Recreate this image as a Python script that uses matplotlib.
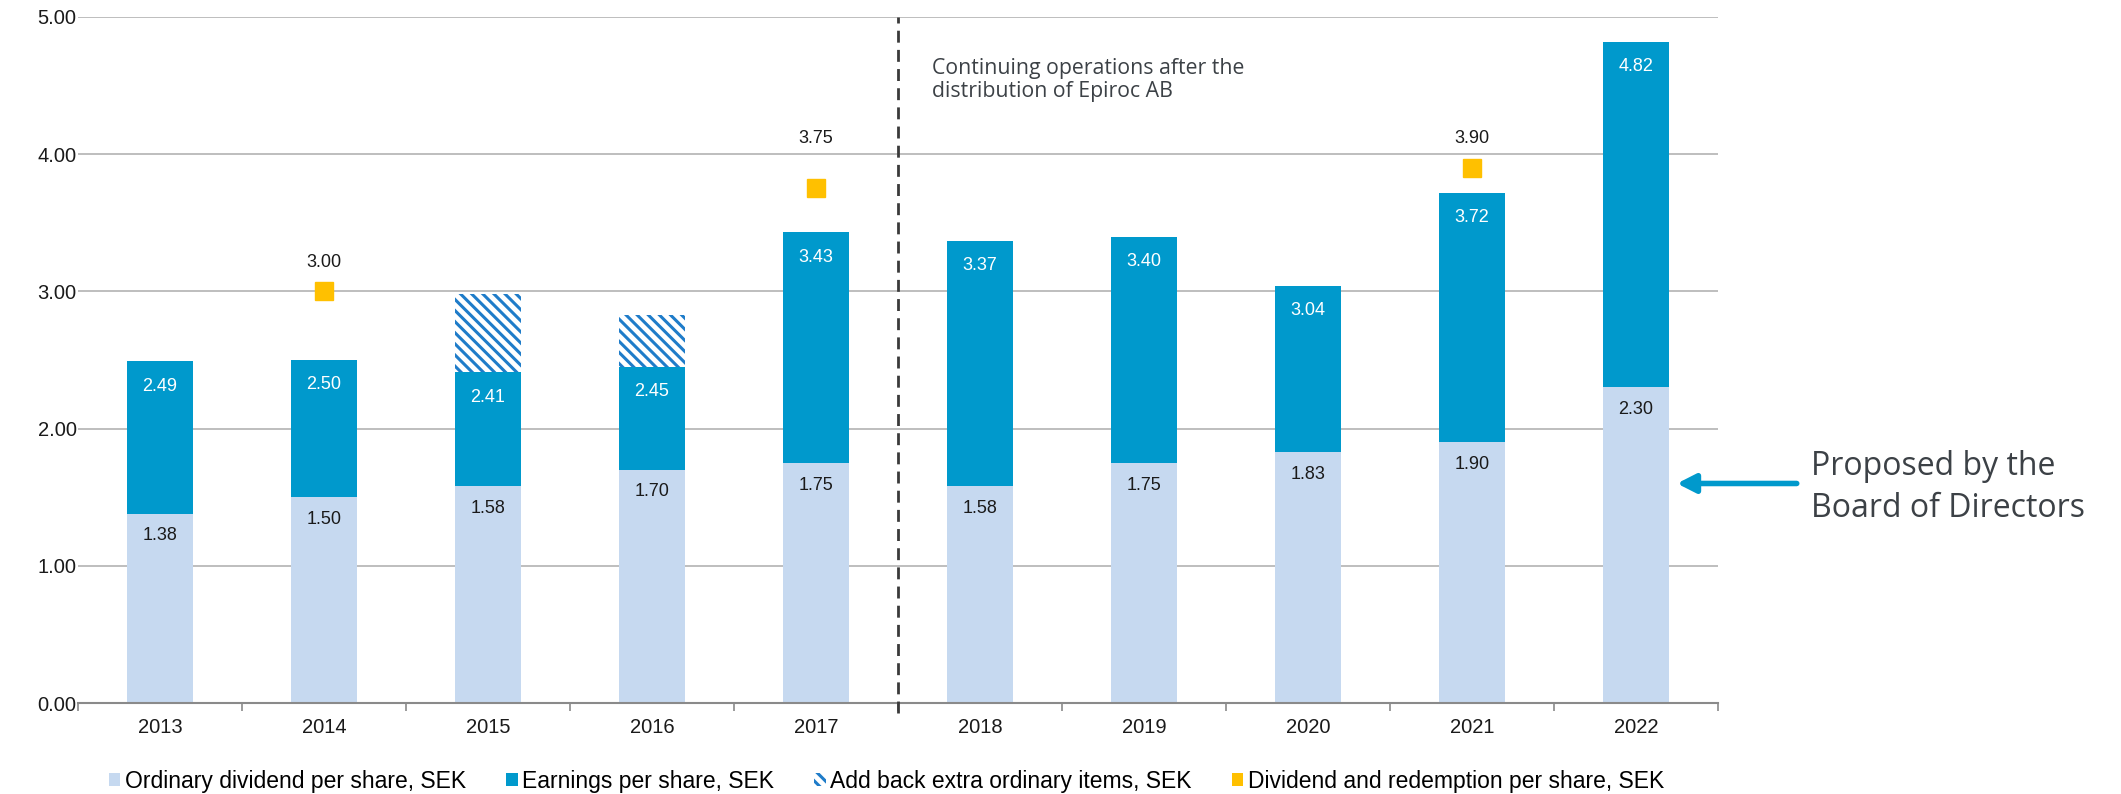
import matplotlib
matplotlib.use("Agg")
import matplotlib.pyplot as plt
from matplotlib.patches import Patch
import numpy as np

plt.rcParams['font.family'] = ['Liberation Sans', 'DejaVu Sans']
plt.rcParams['hatch.linewidth'] = 2.2

years = ['2013', '2014', '2015', '2016', '2017', '2018', '2019', '2020', '2021', '2022']
dividend = [1.38, 1.50, 1.58, 1.70, 1.75, 1.58, 1.75, 1.83, 1.90, 2.30]
eps = [2.49, 2.50, 2.41, 2.45, 3.43, 3.37, 3.40, 3.04, 3.72, 4.82]
addback_total = [None, None, 2.98, 2.83, None, None, None, None, None, None]
redemption = [None, 3.00, None, None, 3.75, None, None, None, 3.90, None]

legend_labels = ['Ordinary dividend per share, SEK', 'Earnings per share, SEK',
                 'Add back extra ordinary items, SEK', 'Dividend and redemption per share, SEK']

c_div = '#C6D9F0'
c_eps = '#0099CC'
c_hatch = '#1F7CC9'
c_red = '#FFC000'
c_note = '#3C4146'

fig = plt.figure(figsize=(21.21, 7.94), dpi=100)
ax = fig.add_axes([0.0368, 0.1146, 0.7732, 0.864])

x = np.arange(len(years))
w = 0.40

ax.bar(x, dividend, w, color=c_div, zorder=2)
ax.bar(x, np.array(eps) - np.array(dividend), w, bottom=dividend, color=c_eps, zorder=2)

for i, top in enumerate(addback_total):
    if top is not None:
        ax.bar(x[i], top - eps[i], w, bottom=eps[i], facecolor='white',
               edgecolor=c_hatch, hatch='\\\\\\', linewidth=0, zorder=2)

for i, v in enumerate(dividend):
    ax.annotate(f'{v:.2f}', (x[i], v), xytext=(0, -16), textcoords='offset points',
                ha='center', va='center', fontsize=13, color='#1a1a1a', zorder=3)
for i, v in enumerate(eps):
    ax.annotate(f'{v:.2f}', (x[i], v), xytext=(0, -18), textcoords='offset points',
                ha='center', va='center', fontsize=13, color='white', zorder=3)

# redemption markers
red_dy = {4: 36}
for i, v in enumerate(redemption):
    if v is None:
        continue
    ax.plot(x[i], v, marker='s', markersize=13, color=c_red, linestyle='none', zorder=4)
    ax.annotate(f'{v:.2f}', (x[i], v), xytext=(0, red_dy.get(i, 21)), textcoords='offset points',
                ha='center', va='center', fontsize=13, color='#1a1a1a')

ax.set_xlim(-0.5, len(years) - 0.5)
ax.set_ylim(0, 5)
ax.set_yticks(np.arange(0, 5.01, 1.0))
ax.set_yticklabels([f'{t:.2f}' for t in np.arange(0, 5.01, 1.0)], fontsize=14.5, color='#1a1a1a')
ax.set_xticks(x)
ax.set_xticklabels(years, fontsize=14.5, color='#1a1a1a')
ax.set_xticks(np.arange(-0.5, len(years)), minor=True)
ax.tick_params(axis='x', which='major', length=0, pad=11)
ax.tick_params(axis='x', which='minor', length=6, width=1.2, color='#8a8a8a', direction='out')
ax.tick_params(axis='y', length=0, pad=1)

ax.yaxis.grid(True, color='#b3b3b3', linewidth=1.2, zorder=0)
ax.set_axisbelow(True)
for s in ['top', 'right', 'left']:
    ax.spines[s].set_visible(False)
ax.spines['bottom'].set_color('#8a8a8a')
ax.spines['bottom'].set_linewidth(1.5)

# divider between before / after Epiroc distribution
divider_x = 4.5
ax.plot([divider_x, divider_x], [-0.07, 5.0], color='#3a3a3a', linewidth=2,
        dashes=(4.3, 2.6), clip_on=False, zorder=5)
ax.text(4.71, 4.54, 'Continuing operations after the\ndistribution of Epiroc AB',
        fontsize=15.3, family=['Open Sans', 'DejaVu Sans'], color=c_note,
        ha='left', va='center', linespacing=1.15)

ax.annotate('', xy=(9.25, 1.6), xytext=(9.98, 1.6), annotation_clip=False,
            arrowprops=dict(arrowstyle='-|>,head_length=0.55,head_width=0.28',
                            color=c_eps, lw=4, mutation_scale=20, shrinkA=0, shrinkB=0))
ax.text(10.07, 1.57, 'Proposed by the\nBoard of Directors', fontsize=23,
        family=['Open Sans', 'DejaVu Sans'], color=c_note, ha='left', va='center',
        linespacing=1.35, clip_on=False)

handles = [Patch(facecolor=c_div), Patch(facecolor=c_eps),
           Patch(facecolor='white', edgecolor=c_hatch, hatch='\\\\\\', linewidth=0),
           Patch(facecolor=c_red)]
fig.legend(handles, legend_labels, loc='center', bbox_to_anchor=(0.418, 0.016), ncol=4,
           frameon=False, fontsize=16.5, handlelength=0.5, handleheight=0.5,
           handletextpad=0.2, columnspacing=1.75, borderpad=0)

fig.savefig('out.png', dpi=100)
